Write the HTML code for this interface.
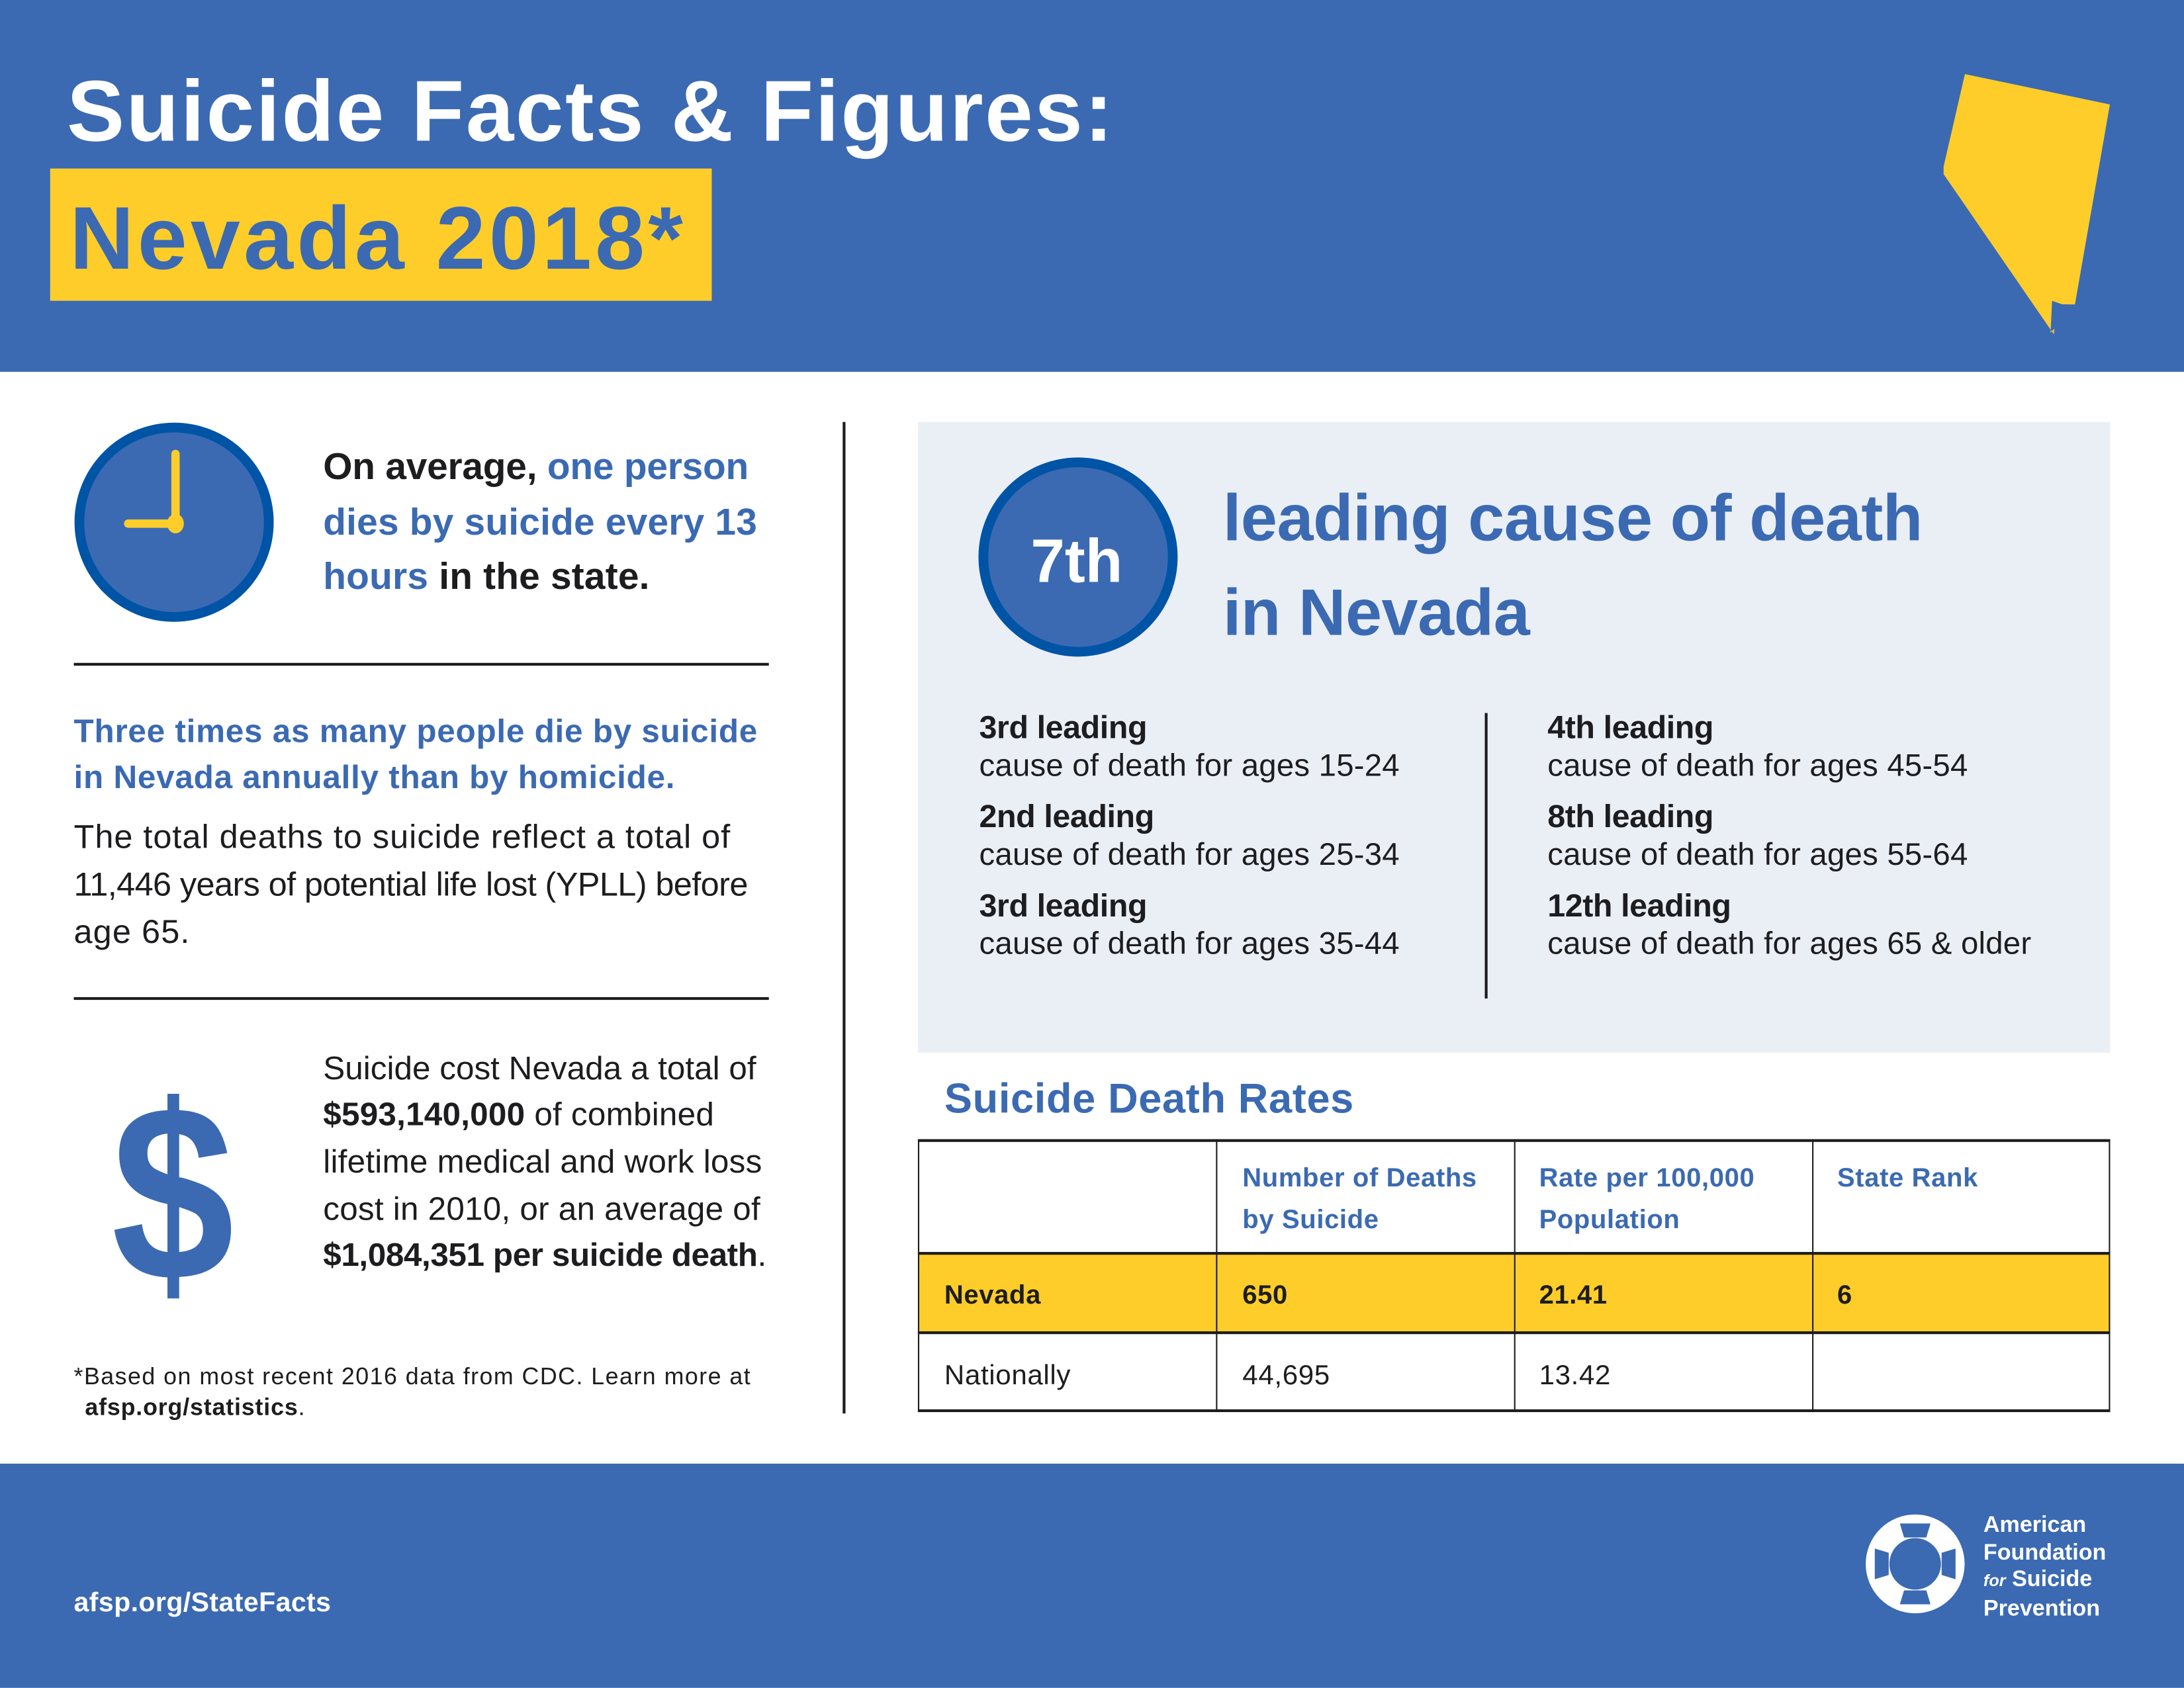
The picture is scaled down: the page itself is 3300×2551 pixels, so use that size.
<!DOCTYPE html>
<html><head><meta charset="utf-8"><style>
html,body{margin:0;padding:0;width:3300px;height:2550px;overflow:hidden;background:#fff}
#s{position:absolute;left:0;top:0;width:1568px;height:1212px;transform:scale(2.10459);transform-origin:0 0;font-family:"Liberation Sans",sans-serif;color:#1d1d1f}
.a{position:absolute;white-space:nowrap;line-height:1}
.b{font-weight:bold}
.bl{color:#3b6ab3}
</style></head><body>
<div id="s">
<div class="a" style="left:0;top:0;width:1568px;height:267px;background:#3b6ab3"></div>
<div class="a b" style="left:48px;top:50px;font-size:62px;color:#fff;letter-spacing:1.2px">Suicide Facts &amp; Figures:</div>
<div class="a" style="left:36px;top:121px;width:475px;height:95px;background:#fecd2a"></div>
<div class="a b bl" style="left:50px;top:139px;font-size:64px;letter-spacing:2.5px">Nevada 2018*</div>
<svg class="a" style="left:0;top:0" width="1568" height="267" viewBox="0 0 1568 267"><polygon fill="#fecd2a" points="1410.7,53.2 1514.8,75 1489.7,218.6 1480.6,218.5 1473.3,216 1472.2,238.8 1475,236 1474.5,240 1395.4,125 1395.4,119.7"/></svg>

<svg class="a" style="left:52px;top:302px" width="146" height="146"><circle cx="73" cy="73" r="68" fill="#3b6ab3" stroke="#0054a6" stroke-width="7"/><rect x="71" y="21" width="6" height="56" rx="3" fill="#fecd2a"/><rect x="37" y="71" width="40" height="6" rx="3" fill="#fecd2a"/><ellipse cx="74" cy="74" rx="6" ry="7" fill="#fecd2a"/></svg>
<div class="a b" style="left:232px;top:322px;font-size:27px;letter-spacing:-0.1px">On average, <span class="bl">one person</span></div>
<div class="a b bl" style="left:232px;top:362px;font-size:27px;letter-spacing:0.1px">dies by suicide every 13</div>
<div class="a b" style="left:232px;top:401px;font-size:27px;letter-spacing:0.1px"><span class="bl">hours</span> in the state.</div>
<div class="a" style="left:53px;top:476px;width:499px;height:2px;background:#1d1d1f"></div>
<div class="a b bl" style="left:53px;top:514px;font-size:23.5px;letter-spacing:0.35px">Three times as many people die by suicide</div>
<div class="a b bl" style="left:53px;top:547px;font-size:23.5px;letter-spacing:0.35px">in Nevada annually than by homicide.</div>
<div class="a" style="left:53px;top:590px;font-size:24px;letter-spacing:0.45px">The total deaths to suicide reflect a total of</div>
<div class="a" style="left:53px;top:624px;font-size:24px;letter-spacing:-0.3px">11,446 years of potential life lost (YPLL) before</div>
<div class="a" style="left:53px;top:658px;font-size:24px;letter-spacing:0.5px">age 65.</div>
<div class="a" style="left:53px;top:716px;width:499px;height:2px;background:#1d1d1f"></div>
<div class="a b bl" style="left:80px;top:768px;font-size:180px;line-height:1;transform:scaleX(0.88);transform-origin:0 0">$</div>
<div class="a" style="left:232px;top:756px;font-size:23.5px;letter-spacing:0">Suicide cost Nevada a total of</div>
<div class="a" style="left:232px;top:789px;font-size:23.5px;letter-spacing:0.1px"><b>$593,140,000</b> of combined</div>
<div class="a" style="left:232px;top:823px;font-size:23.5px;letter-spacing:0.1px">lifetime medical and work loss</div>
<div class="a" style="left:232px;top:857px;font-size:23.5px;letter-spacing:0.1px">cost in 2010, or an average of</div>
<div class="a" style="left:232px;top:890px;font-size:23.5px;letter-spacing:-0.2px"><b>$1,084,351 per suicide death</b>.</div>
<div class="a" style="left:53px;top:980px;font-size:17px;letter-spacing:0.7px">*Based on most recent 2016 data from CDC. Learn more at</div>
<div class="a b" style="left:61px;top:1002px;font-size:17px;letter-spacing:0.4px">afsp.org/statistics<span style="font-weight:normal">.</span></div>
<div class="a" style="left:605px;top:303px;width:2px;height:712px;background:#1d1d1f"></div>

<div class="a" style="left:659px;top:303px;width:856px;height:453px;background:#eaeff6"></div>
<svg class="a" style="left:702px;top:328px" width="146" height="146"><circle cx="72" cy="72" r="68" fill="#3b6ab3" stroke="#0054a6" stroke-width="7"/></svg>
<div class="a b" style="left:740px;top:382px;font-size:44px;color:#fff">7th</div>
<div class="a b bl" style="left:878px;top:348px;font-size:47px;letter-spacing:-0.2px">leading cause of death</div>
<div class="a b bl" style="left:878px;top:416px;font-size:47px;letter-spacing:-0.2px">in Nevada</div>
<div class="a" style="left:1066px;top:512px;width:1.5px;height:205px;background:#1d1d1f"></div>
<div class="a b" style="left:703px;top:511px;font-size:23px;letter-spacing:-0.2px">3rd leading</div>
<div class="a" style="left:703px;top:539px;font-size:22.5px;letter-spacing:0.1px">cause of death for ages 15-24</div>
<div class="a b" style="left:703px;top:575px;font-size:23px;letter-spacing:-0.2px">2nd leading</div>
<div class="a" style="left:703px;top:603px;font-size:22.5px;letter-spacing:0.1px">cause of death for ages 25-34</div>
<div class="a b" style="left:703px;top:639px;font-size:23px;letter-spacing:-0.2px">3rd leading</div>
<div class="a" style="left:703px;top:667px;font-size:22.5px;letter-spacing:0.1px">cause of death for ages 35-44</div>
<div class="a b" style="left:1111px;top:511px;font-size:23px;letter-spacing:-0.2px">4th leading</div>
<div class="a" style="left:1111px;top:539px;font-size:22.5px;letter-spacing:0.1px">cause of death for ages 45-54</div>
<div class="a b" style="left:1111px;top:575px;font-size:23px;letter-spacing:-0.2px">8th leading</div>
<div class="a" style="left:1111px;top:603px;font-size:22.5px;letter-spacing:0.1px">cause of death for ages 55-64</div>
<div class="a b" style="left:1111px;top:639px;font-size:23px;letter-spacing:-0.2px">12th leading</div>
<div class="a" style="left:1111px;top:667px;font-size:22.5px;letter-spacing:0.1px">cause of death for ages 65 &amp; older</div>

<div class="a b bl" style="left:678px;top:775px;font-size:30px;letter-spacing:0.3px">Suicide Death Rates</div>
<div class="a" style="left:659px;top:900px;width:856px;height:57px;background:#fecd2a"></div>
<div class="a" style="left:659px;top:818px;width:856px;height:1.5px;background:#1d1d1f"></div>
<div class="a" style="left:659px;top:899px;width:856px;height:2px;background:#1d1d1f"></div>
<div class="a" style="left:659px;top:956px;width:856px;height:2px;background:#1d1d1f"></div>
<div class="a" style="left:659px;top:1012px;width:856px;height:2px;background:#1d1d1f"></div>
<div class="a" style="left:659px;top:818px;width:1px;height:196px;background:#1d1d1f"></div>
<div class="a" style="left:873px;top:818px;width:1px;height:196px;background:#1d1d1f"></div>
<div class="a" style="left:1087px;top:818px;width:1px;height:196px;background:#1d1d1f"></div>
<div class="a" style="left:1301px;top:818px;width:1px;height:196px;background:#1d1d1f"></div>
<div class="a" style="left:1514px;top:818px;width:1px;height:196px;background:#1d1d1f"></div>
<div class="a b bl" style="left:892px;top:837px;font-size:19px;letter-spacing:0.3px">Number of Deaths</div>
<div class="a b bl" style="left:892px;top:867px;font-size:19px;letter-spacing:0.3px">by Suicide</div>
<div class="a b bl" style="left:1105px;top:837px;font-size:19px;letter-spacing:0.3px">Rate per 100,000</div>
<div class="a b bl" style="left:1105px;top:867px;font-size:19px;letter-spacing:0.3px">Population</div>
<div class="a b bl" style="left:1319px;top:837px;font-size:19px;letter-spacing:0.3px">State Rank</div>
<div class="a b" style="left:678px;top:921px;font-size:19px;letter-spacing:0.3px">Nevada</div>
<div class="a b" style="left:892px;top:921px;font-size:19px;letter-spacing:0.3px">650</div>
<div class="a b" style="left:1105px;top:921px;font-size:19px;letter-spacing:0.3px">21.41</div>
<div class="a b" style="left:1319px;top:921px;font-size:19px">6</div>
<div class="a" style="left:678px;top:978px;font-size:20px;letter-spacing:0.3px">Nationally</div>
<div class="a" style="left:892px;top:978px;font-size:20px;letter-spacing:0.3px">44,695</div>
<div class="a" style="left:1105px;top:978px;font-size:20px;letter-spacing:0.3px">13.42</div>

<div class="a" style="left:0;top:1051px;width:1568px;height:161px;background:#3b6ab3"></div>
<div class="a b" style="left:53px;top:1142px;font-size:19.5px;color:#fff;letter-spacing:0.2px">afsp.org/StateFacts</div>
<svg class="a" style="left:1335px;top:1083px" width="80" height="80" viewBox="0 0 80 80"><circle cx="40" cy="40" r="27" fill="none" stroke="#fff" stroke-width="17"/><g fill="#3b6ab3"><polygon points="29,11 51,11 48,21 32,21"/><polygon points="29,69 51,69 48,59 32,59"/><polygon points="11,29 11,51 21,48 21,32"/><polygon points="69,29 69,51 59,48 59,32"/></g></svg>
<div class="a b" style="left:1424px;top:1086px;font-size:16.2px;color:#fff;line-height:19.5px">American<br>Foundation<br><i style="font-size:12px">for</i> Suicide<br>Prevention</div>
</div>
</body></html>
